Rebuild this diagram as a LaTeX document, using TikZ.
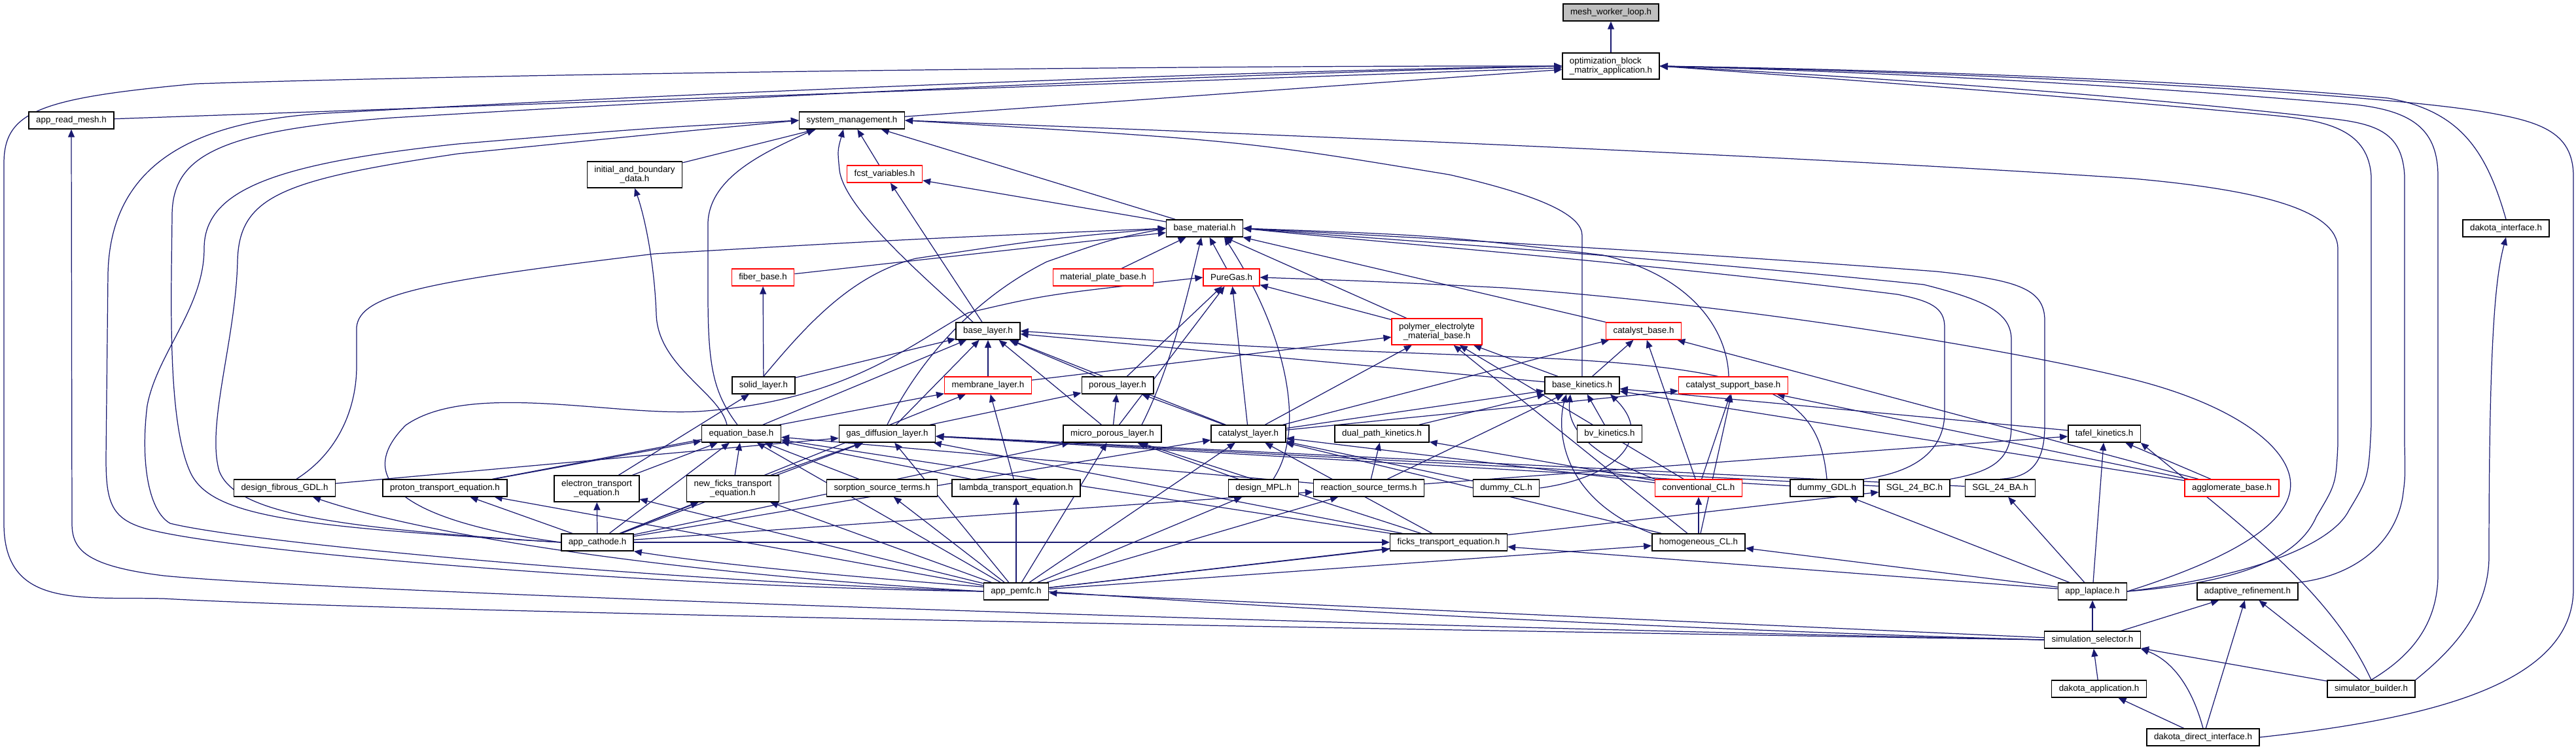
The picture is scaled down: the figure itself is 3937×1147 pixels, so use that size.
\documentclass[tikz,border=0pt]{standalone}
\usepackage{fontspec}
\setmainfont{Liberation Sans}
\usetikzlibrary{arrows.meta}
\definecolor{edgeblue}{HTML}{191970}
\definecolor{rootgray}{HTML}{BFBFBF}
\pgfdeclarelayer{bg}
\pgfsetlayers{bg,main}
\tikzset{
  file/.style={draw=black, fill=white, line width=0.4pt, inner xsep=1.1mm, inner ysep=0.3mm,
    minimum height=2.6mm, font=\fontsize{3.8}{4.0}\selectfont},
  redfile/.style={file, draw=red},
  twoline/.style={minimum height=4.0mm},
  incl/.style={draw=edgeblue, line width=0.35pt, -{Triangle[length=1.2mm,width=1.0mm]}},
}
\begin{document}
\begin{tikzpicture}[x=0.1mm, y=-0.1mm]
  \useasboundingbox (0,0) rectangle (3937,1147);
  % files, top to bottom
  \node[file, fill=rootgray] (mwl) at (2462,19) {mesh\_worker\_loop.h};
  \node[file, twoline, align=left] (obma) at (2462,101) {optimization\_block\\\_matrix\_application.h};
  \node[file] (arm) at (109,184) {app\_read\_mesh.h};
  \node[file] (sysm) at (1302,184) {system\_management.h};
  \node[file, twoline, align=center] (ibd) at (970,267) {initial\_and\_boundary\\\_data.h};
  \node[redfile] (fcst) at (1352,266) {fcst\_variables.h};
  \node[file] (dint) at (3830,349) {dakota\_interface.h};
  \node[file] (bmat) at (1841,349) {base\_material.h};
  \node[redfile] (fib) at (1166,424) {fiber\_base.h};
  \node[redfile] (mpb) at (1686,424) {material\_plate\_base.h};
  \node[redfile] (pgas) at (1882,424) {PureGas.h};
  \node[redfile, twoline, align=center] (pemb) at (2196,507) {polymer\_electrolyte\\\_material\_base.h};
  \node[redfile] (catb) at (2512,506) {catalyst\_base.h};
  \node[file] (blay) at (1510,506) {base\_layer.h};
  \node[file] (slay) at (1167,589) {solid\_layer.h};
  \node[redfile] (mlay) at (1510,589) {membrane\_layer.h};
  \node[file] (play) at (1708,589) {porous\_layer.h};
  \node[file] (bkin) at (2418,589) {base\_kinetics.h};
  \node[redfile] (csb) at (2649,589) {catalyst\_support\_base.h};
  \node[file] (eqb) at (1133,663) {equation\_base.h};
  \node[file] (gdl) at (1356,663) {gas\_diffusion\_layer.h};
  \node[file] (mpl) at (1700,663) {micro\_porous\_layer.h};
  \node[file] (cl) at (1908,663) {catalyst\_layer.h};
  \node[file] (dpk) at (2112,663) {dual\_path\_kinetics.h};
  \node[file] (bvk) at (2460,663) {bv\_kinetics.h};
  \node[file] (tafel) at (3216,663) {tafel\_kinetics.h};
  \node[file] (dfg) at (435,746) {design\_fibrous\_GDL.h};
  \node[file] (pte) at (680,746) {proton\_transport\_equation.h};
  \node[file, twoline, align=center] (ete) at (912,747) {electron\_transport\\\_equation.h};
  \node[file, twoline, align=center] (nfte) at (1120,747) {new\_ficks\_transport\\\_equation.h};
  \node[file] (sst) at (1348,746) {sorption\_source\_terms.h};
  \node[file] (lte) at (1553,746) {lambda\_transport\_equation.h};
  \node[file] (dmpl) at (1931,746) {design\_MPL.h};
  \node[file] (rst) at (2092,746) {reaction\_source\_terms.h};
  \node[file] (dcl) at (2302,746) {dummy\_CL.h};
  \node[redfile] (ccl) at (2596,746) {conventional\_CL.h};
  \node[file] (dgdl) at (2792,746) {dummy\_GDL.h};
  \node[file] (sbc) at (2926,746) {SGL\_24\_BC.h};
  \node[file] (sba) at (3057,746) {SGL\_24\_BA.h};
  \node[redfile] (aggl) at (3411,746) {agglomerate\_base.h};
  \node[file] (acat) at (913,829) {app\_cathode.h};
  \node[file] (fte) at (2214,829) {ficks\_transport\_equation.h};
  \node[file] (hcl) at (2596,829) {homogeneous\_CL.h};
  \node[file] (apem) at (1553,904) {app\_pemfc.h};
  \node[file] (alap) at (3198,904) {app\_laplace.h};
  \node[file] (aref) at (3435,904) {adaptive\_refinement.h};
  \node[file] (simsel) at (3198,978) {simulation\_selector.h};
  \node[file] (dapp) at (3208,1053) {dakota\_application.h};
  \node[file] (sbuild) at (3624,1053) {simulator\_builder.h};
  \node[file] (ddi) at (3367,1127) {dakota\_direct\_interface.h};

  \begin{pgfonlayer}{bg}
  % straight includes
  \foreach \s/\t in {obma/mwl, arm/obma, sysm/obma, ibd/sysm, fcst/sysm, bmat/sysm,
      blay/fcst, bmat/fcst, fib/bmat, mpb/bmat, pgas/bmat, pemb/bmat, catb/bmat,
      slay/blay, slay/fib, mlay/blay, mlay/pemb, play/blay, play/pgas, gdl/blay, gdl/play,
      mpl/blay, mpl/play, mpl/pgas, cl/blay, cl/play, cl/pgas, cl/pemb, cl/catb, cl/bkin,
      cl/csb, eqb/blay, bkin/blay, pemb/pgas, bkin/pemb, bkin/catb, dpk/bkin, bvk/bkin,
      tafel/bkin, ccl/catb, ccl/csb, ccl/pemb, ccl/cl, ccl/dpk, hcl/ccl, hcl/csb,
      hcl/pemb, hcl/cl, dcl/cl, aggl/tafel, aggl/bkin, aggl/catb, aggl/csb,
      dfg/gdl, dgdl/gdl, sbc/gdl, sba/gdl, dmpl/mpl,
      pte/eqb, pte/mlay, ete/eqb, ete/slay, nfte/eqb, nfte/gdl, sst/eqb, lte/eqb, lte/mlay,
      rst/eqb, rst/dpk, rst/bkin, rst/tafel, fte/eqb, fte/gdl, fte/mpl, fte/cl,
      acat/ete, acat/pte, acat/nfte, acat/eqb, acat/gdl, acat/mpl, acat/cl, acat/mlay,
      acat/fte, acat/rst,
      apem/pte, apem/ete, apem/nfte, apem/sst, apem/lte, apem/dmpl, apem/rst, apem/cl,
      apem/mpl, apem/gdl, apem/fte, apem/hcl, apem/sbc, apem/eqb,
      alap/tafel, alap/sba, alap/dgdl, alap/hcl, alap/fte,
      simsel/alap, simsel/aref, simsel/apem, dapp/simsel, ddi/dapp, ddi/aref,
      sbuild/simsel, sbuild/aref}
    \draw[incl] (\s) -- (\t);

  % long routes on the left
  \draw[incl] (simsel.west) .. controls (2000,960) and (600,935) .. (250,915)
    .. controls (120,912) and (6,930) .. (6,800) -- (6,250)
    .. controls (6,170) and (60,150) .. (300,128) .. controls (800,112) and (1800,100) .. (obma.west);
  \draw[incl] (simsel.west) .. controls (2000,955) and (500,905) .. (250,880)
    .. controls (130,865) and (110,840) .. (110,800) -- (arm.south);
  \draw[incl] (apem.west) .. controls (1000,897) and (370,845) .. (230,810)
    .. controls (170,795) and (162,770) .. (162,700) -- (165,420)
    .. controls (168,230) and (330,180) .. (520,172) .. controls (900,150) and (1800,110) .. (obma.west);
  \draw[incl] (acat.west) .. controls (450,805) and (320,790) .. (290,720)
    .. controls (255,640) and (262,450) .. (263,330)
    .. controls (263,240) and (330,200) .. (600,180) .. controls (1100,150) and (1800,115) .. (obma.west);
  \draw[incl] (apem.west) .. controls (1000,887) and (380,830) .. (260,800)
    .. controls (225,780) and (215,700) .. (225,620) .. controls (240,540) and (312,470) .. (312,380)
    .. controls (312,290) and (420,250) .. (700,220) .. controls (1000,195) .. (sysm.west);
  \draw[incl] (acat.west) .. controls (510,807) and (360,785) .. (335,720)
    .. controls (315,650) and (360,520) .. (363,400)
    .. controls (365,300) and (430,275) .. (700,235) .. controls (1000,205) .. (sysm.west);
  \draw[incl] (simsel.west) .. controls (2300,955) and (1300,895) .. (acat.south east);
  \draw[incl] (apem.west) .. controls (1000,875) and (640,815) .. ([xshift=4.3mm]dfg.south);
  \draw[incl] ([xshift=1.8mm]dfg.north) .. controls (520,690) and (545,620) .. (545,560) -- (545,500)
    .. controls (550,450) and (650,430) .. (1000,388) .. controls (1400,365) .. (bmat.west);
  \draw[incl] (acat.west) .. controls (640,800) and (530,740) .. (620,650)
    .. controls (720,580) and (950,640) .. (1080,628) .. controls (1300,610) and (1400,520) .. (1480,478)
    .. controls (1600,450) .. (pgas.west);

  % middle
  \draw[incl] ([xshift=-2.2mm]eqb.north) .. controls (1100,600) and (1005,560) .. (1003,480)
    .. controls (1000,400) and (985,330) .. (ibd.south);
  \draw[incl] ([xshift=-0.6mm]eqb.north) .. controls (1090,600) and (1082,560) .. (1082,450) -- (1082,340)
    .. controls (1085,270) and (1170,232) .. ([xshift=-5.7mm]sysm.south);
  \draw[incl] ([xshift=-2.3mm]blay.north) .. controls (1420,430) and (1290,320) .. (1283,260)
    .. controls (1280,230) .. ([xshift=-1.3mm]sysm.south);
  \draw[incl] (bkin.north) -- (2418,360) .. controls (2418,330) and (2360,300) .. (2215,267)
    .. controls (1900,215) .. (sysm.east);
  \draw[incl] (slay.north) .. controls (1230,500) and (1300,420) .. (1400,395) .. controls (1600,365) .. (bmat.west);
  \draw[incl] (gdl.north) .. controls (1400,560) and (1480,460) .. (1600,400) .. controls (1700,365) .. (bmat.west);
  \draw[incl] ([xshift=4.5mm]mpl.north) .. controls (1790,560) and (1815,450) .. ([xshift=-0.5mm]bmat.south);
  \draw[incl] ([xshift=1.5mm]dmpl.north) .. controls (2000,650) and (1960,500) .. ([xshift=3mm]bmat.south);
  \draw[incl] ([xshift=-0.7mm]csb.north) .. controls (2640,500) and (2580,420) .. (2450,390)
    .. controls (2200,360) .. (bmat.east);
  \draw[incl] (dgdl.north) .. controls (2780,600) and (2700,560) .. (2300,545) .. controls (1900,530) .. (blay.east);
  \draw[incl] (dcl.east) .. controls (2470,730) and (2530,670) .. ([xshift=4.3mm]bkin.south);
  \draw[incl] (ccl.north west) .. controls (2420,690) and (2395,650) .. ([xshift=-1.8mm]bkin.south);
  \draw[incl] (hcl.north west) .. controls (2380,760) and (2380,650) .. ([xshift=-2.4mm]bkin.south);

  % loops on the right
  \draw[incl] (sba.north) .. controls (3110,730) and (3125,700) .. (3125,650) -- (3125,490)
    .. controls (3125,440) and (3080,428) .. (2960,415) .. controls (2500,380) and (2100,360) .. (bmat.east);
  \draw[incl] (sbc.north east) .. controls (3050,720) and (3074,700) .. (3074,650) -- (3074,520)
    .. controls (3074,480) and (3040,460) .. (2940,435) .. controls (2500,390) and (2100,365) .. (bmat.east);
  \draw[incl] (dgdl.north east) .. controls (2940,720) and (2972,680) .. (2972,630) -- (2972,500)
    .. controls (2972,470) and (2950,460) .. (2900,450) .. controls (2500,400) and (2100,370) .. (bmat.east);
  \draw[incl] (alap.east) .. controls (3390,860) and (3490,810) .. (3500,750)
    .. controls (3510,690) and (3420,620) .. (3260,580) .. controls (3100,540) and (2700,470) .. (2300,440)
    .. controls (2100,430) .. (pgas.east);
  \draw[incl] (alap.east) .. controls (3430,890) and (3514,850) .. (3540,790)
    .. controls (3570,740) .. (3573,680) -- (3573,380)
    .. controls (3573,320) and (3450,290) .. (3260,273) .. controls (2700,235) and (1800,200) .. (sysm.east);
  \draw[incl] (alap.east) .. controls (3450,880) and (3565,830) .. (3590,780)
    .. controls (3620,730) .. (3624,650) -- (3624,270)
    .. controls (3620,200) and (3560,185) .. (3480,177) .. controls (3200,150) and (2800,120) .. (obma.east);
  \draw[incl] (aref.north east) .. controls (3600,880) and (3660,830) .. (3672,760)
    .. controls (3676,730) .. (3675,680) -- (3675,270)
    .. controls (3672,200) and (3630,188) .. (3550,180) .. controls (3200,140) and (2800,115) .. (obma.east);
  \draw[incl] (sbuild.north) .. controls (3690,1000) and (3725,950) .. (3726,880) -- (3726,270)
    .. controls (3726,200) and (3690,170) .. (3600,160) .. controls (3200,125) and (2800,108) .. (obma.east);
  \draw[incl] (dint.north) .. controls (3800,230) and (3760,170) .. (3650,150)
    .. controls (3300,118) and (2800,105) .. (obma.east);
  \draw[incl] (ddi.east) .. controls (3700,1100) and (3933,1050) .. (3933,900) -- (3933,270)
    .. controls (3933,200) and (3880,185) .. (3790,170) .. controls (3600,140) and (3000,110) .. (obma.east);
  \draw[incl] (sbuild.north east) .. controls (3740,1000) and (3804,940) .. (3804,850)
    .. controls (3804,500) and (3815,420) .. (dint.south);
  \draw[incl] (sbuild.north) .. controls (3560,900) and (3420,800) .. (tafel.south east);
  \draw[incl] (ddi.north) .. controls (3350,1050) and (3320,1010) .. (simsel.south east);
  \end{pgfonlayer}
\end{tikzpicture}
\end{document}
